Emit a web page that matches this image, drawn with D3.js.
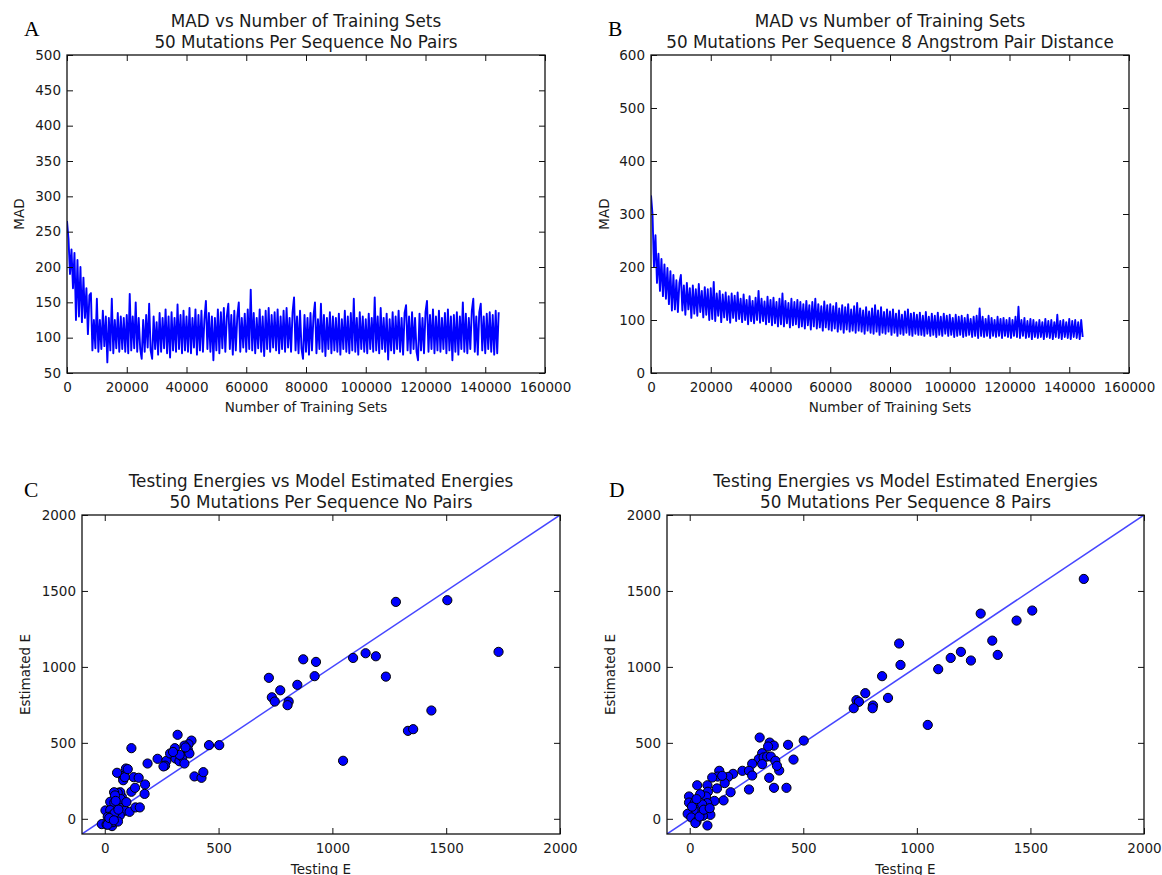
<!DOCTYPE html>
<html>
<head>
<meta charset="utf-8">
<script src="https://cdn.jsdelivr.net/npm/d3@7"></script>
<style>
  html, body { margin: 0; padding: 0; background: #fff; }
  svg { display: block; }
  text { font-family: "DejaVu Sans", sans-serif; fill: #1a1a1a; }
  .letter { font-family: "Liberation Serif", "Times New Roman", serif; fill: #000; }
</style>
</head>
<body>
<svg id="fig" width="1162" height="875"></svg>
<script>
// ---- MAD curves: one sample every madStep training sets (0 .. 144500) ----
const madStep = 500;

const madNoPairs = [
  265,240,190,225,170,220,125,210,130,200,122,185,128,170,105,160,163,82,125,85,
  155,80,125,84,138,88,130,65,128,82,155,78,125,85,135,80,130,84,128,80,
  132,78,162,82,130,85,150,80,128,84,70,125,80,132,86,148,82,70,130,84,
  122,76,135,80,128,85,140,78,130,72,136,82,128,80,147,84,132,78,138,82,
  130,80,142,78,128,86,140,76,132,82,138,80,126,152,84,135,80,130,68,128,
  82,140,78,136,85,142,80,130,148,84,132,76,138,82,130,150,80,128,86,134,
  80,140,84,168,82,135,78,128,85,140,80,130,74,138,84,142,80,132,86,136,
  82,140,78,130,84,138,80,142,86,128,80,136,157,82,130,78,138,84,70,132,
  80,128,76,135,82,130,150,78,126,84,148,80,132,74,128,84,136,78,130,82,
  128,80,134,76,126,84,138,80,130,78,135,82,155,80,128,76,136,84,130,80,
  126,78,134,84,128,80,157,82,130,78,142,84,128,80,134,69,126,82,136,78,
  130,84,138,80,128,76,135,146,82,130,78,136,84,128,80,68,134,82,128,78,
  136,152,80,132,84,140,78,130,82,138,80,128,84,135,78,140,82,130,68,132,
  80,136,76,130,84,150,80,134,78,128,84,138,155,80,130,76,136,148,82,130,
  78,134,84,136,80,132,76,138,78,136
];

const madPairs8A = [
  335,300,200,260,170,225,155,215,145,205,140,198,130,192,118,185,120,175,115,170,
  185,118,165,110,170,120,160,104,165,112,158,108,168,115,155,105,162,110,158,100,
  160,102,172,98,150,108,155,96,148,105,152,100,145,95,150,104,146,98,152,102,
  140,96,148,100,138,92,145,98,136,94,142,100,155,95,140,98,135,92,144,96,
  138,90,142,94,134,88,140,92,150,88,136,94,132,86,140,90,134,92,138,86,
  134,88,130,84,136,90,128,82,134,88,140,84,130,86,126,80,135,86,128,82,
  130,80,126,84,132,78,122,82,128,76,124,82,130,78,120,80,126,76,132,80,
  122,78,118,74,124,80,116,76,122,74,128,78,118,72,124,76,115,74,120,78,
  116,72,120,76,112,70,118,74,110,72,116,76,120,72,112,70,114,74,110,72,
  114,72,108,70,115,74,106,70,112,72,108,68,114,72,106,70,112,74,108,70,
  110,72,104,68,110,70,106,72,108,68,104,70,110,72,102,68,106,70,108,66,
  122,70,106,68,102,70,108,66,104,70,100,68,106,70,102,66,104,70,100,68,
  104,66,100,70,106,68,125,66,100,70,104,66,98,68,102,64,100,68,96,66,
  100,68,96,64,102,68,98,66,100,64,96,68,110,66,98,64,100,68,96,66,
  102,64,98,68,100,66,96,64,100,68
];

// ---- Testing energy vs model estimate, [testing E, estimated E] ----
const scatterNoPairs = [
  [1279,1428],[1505,1439],[1730,1099],[1091,1059],[1146,1090],[1191,1070],[1235,936],
  [1435,713],[1332,579],[1355,590],[1047,382],[872,1050],[928,1033],[922,939],
  [846,882],[721,928],[771,846],[734,800],[747,772],[808,772],[803,748],
  [503,485],[458,485],[320,553],[381,515],[368,491],[350,482],[308,465],
  [232,395],[188,364],[271,382],[265,350],[287,430],[311,397],[328,379],
  [341,406],[329,421],[350,364],[394,279],[425,270],[433,307],[365,455],
  [372,430],[117,465],[258,345],[300,440],[355,470],
  [78,281],[81,254],[54,303],[93,331],[127,274],[149,270],[177,226],[175,164],
  [117,178],[133,204],[75,145],[68,175],[78,114],[57,171],[41,175],[24,112],
  [42,107],[3,55],[24,57],[13,13],[-13,-35],[8,-37],[32,-48],[49,-15],
  [67,33],[89,53],[109,46],[135,75],[154,75],[66,22],[26,15],[36,-22],
  [12,-39],[58,-18],[43,37],[20,5],[60,60],[70,130],[40,-10],[95,110],
  [45,154],[48,118],[88,274],[101,327]
];

const scatterPairs8 = [
  [1735,1579],[1508,1371],[1439,1305],[1281,1351],[1332,1173],[1356,1079],[1194,1099],
  [1149,1059],[1238,1042],[1094,985],[922,1154],[928,1013],[847,939],[873,796],
  [773,827],[734,781],[745,770],[722,728],[807,746],[805,728],[1048,618],
  [502,515],[433,487],[457,390],[308,535],[426,204],[371,204],[350,270],[394,318],
  [261,193],[352,502],[370,482],[345,476],[319,432],[304,393],[325,404],[341,410],
  [357,410],[275,362],[319,360],[377,382],[384,349],
  [232,316],[261,316],[275,285],[180,175],[191,296],[169,276],[154,235],[130,316],
  [123,278],[143,283],[99,272],[120,200],[149,121],[109,118],[78,221],[33,221],
  [80,178],[72,147],[46,162],[-3,147],[-3,107],[22,107],[77,103],[41,61],
  [17,57],[81,48],[67,35],[91,26],[-9,33],[7,9],[30,-18],[25,-28],
  [78,-44],[58,20],[43,15],[10,80],[55,95],[30,130],[62,60],[88,70]
];

// ---- Tick values ----
const trainTicks = [0, 20000, 40000, 60000, 80000, 100000, 120000, 140000, 160000];
const madTicksNoPairs = [50, 100, 150, 200, 250, 300, 350, 400, 450, 500];
const madTicksPairs = [0, 100, 200, 300, 400, 500, 600];
const energyTicks = [0, 500, 1000, 1500, 2000];

// ---- Text ----
const titlesA = ["MAD vs Number of Training Sets", "50 Mutations Per Sequence No Pairs"];
const titlesB = ["MAD vs Number of Training Sets", "50 Mutations Per Sequence 8 Angstrom Pair Distance"];
const titlesC = ["Testing Energies vs Model Estimated Energies", "50 Mutations Per Sequence No Pairs"];
const titlesD = ["Testing Energies vs Model Estimated Energies", "50 Mutations Per Sequence 8 Pairs"];

const svg = d3.select("#fig");
svg.append("rect").attr("width", 1162).attr("height", 875).attr("fill", "#fff");

const TICK_FONT = 13.5, TITLE_FONT = 16.8, LABEL_FONT = 13.5;

function makePanel(o) {
  const w = o.right - o.left, h = o.bottom - o.top;
  const g = svg.append("g").attr("transform", `translate(${o.left},${o.top})`);
  const x = d3.scaleLinear().domain(o.xDomain).range([0, w]);
  const y = d3.scaleLinear().domain(o.yDomain).range([h, 0]);

  const clipId = "clip" + o.letter;
  g.append("clipPath").attr("id", clipId)
    .append("rect").attr("width", w).attr("height", h);
  const plot = g.append("g").attr("clip-path", `url(#${clipId})`);

  // axes: labelled bottom/left, bare inward ticks on top/right
  const fmt = d3.format("d");
  const styleAxis = sel => {
    sel.select(".domain").remove();
    sel.selectAll(".tick line").attr("stroke", "#111").attr("stroke-width", 1);
    sel.selectAll(".tick text").attr("font-size", TICK_FONT).attr("fill", "#1a1a1a")
      .attr("font-family", '"DejaVu Sans", sans-serif');
  };
  g.append("g").attr("transform", `translate(0,${h})`)
    .call(d3.axisBottom(x).tickValues(o.xTicks).tickFormat(fmt).tickSizeInner(-6).tickSizeOuter(0).tickPadding(9))
    .call(styleAxis);
  g.append("g")
    .call(d3.axisTop(x).tickValues(o.xTicks).tickFormat("").tickSizeInner(-6).tickSizeOuter(0))
    .call(styleAxis);
  g.append("g")
    .call(d3.axisLeft(y).tickValues(o.yTicks).tickFormat(fmt).tickSizeInner(-6).tickSizeOuter(0).tickPadding(6))
    .call(styleAxis);
  g.append("g").attr("transform", `translate(${w},0)`)
    .call(d3.axisRight(y).tickValues(o.yTicks).tickFormat("").tickSizeInner(-6).tickSizeOuter(0))
    .call(styleAxis);

  o.draw(plot, x, y);

  g.append("rect").attr("width", w).attr("height", h)
    .attr("fill", "none").attr("stroke", "#111").attr("stroke-width", 1.3);

  // titles
  o.titles.forEach((t, i) => {
    g.append("text").attr("x", w / 2).attr("y", -28.5 + i * 21)
      .attr("text-anchor", "middle").attr("font-size", TITLE_FONT).text(t);
  });
  // axis labels
  g.append("text").attr("x", w / 2).attr("y", h + o.xLabelGap)
    .attr("text-anchor", "middle").attr("font-size", LABEL_FONT).text(o.xLabel);
  g.append("text")
    .attr("transform", `translate(${-o.yLabelGap},${h / 2}) rotate(-90)`)
    .attr("text-anchor", "middle").attr("font-size", LABEL_FONT).text(o.yLabel);
  // panel letter
  svg.append("text").attr("class", "letter")
    .attr("x", o.letterX).attr("y", o.letterY)
    .attr("font-size", 21.5).text(o.letter);
}

function drawMad(values) {
  return (plot, x, y) => {
    const line = d3.line().x((d, i) => x(i * madStep)).y(d => y(d));
    plot.append("path").datum(values).attr("d", line)
      .attr("fill", "none").attr("stroke", "#0000ff").attr("stroke-width", 1.9)
      .attr("stroke-linejoin", "round");
  };
}

function drawScatter(points) {
  return (plot, x, y) => {
    const ident = d3.line().x(d => x(d)).y(d => y(d));
    plot.append("path").datum([-100, 2000]).attr("d", ident)
      .attr("fill", "none").attr("stroke", "#4646ff").attr("stroke-width", 1.5);
    plot.selectAll("circle").data(points).join("circle")
      .attr("cx", d => x(d[0])).attr("cy", d => y(d[1])).attr("r", 4.6)
      .attr("fill", "#0000ff").attr("stroke", "#000").attr("stroke-width", 1);
  };
}

makePanel({
  letter: "A", letterX: 24, letterY: 36,
  left: 67, right: 545, top: 55, bottom: 373,
  xDomain: [0, 160000], yDomain: [50, 500],
  xTicks: trainTicks, yTicks: madTicksNoPairs,
  titles: titlesA, xLabel: "Number of Training Sets", yLabel: "MAD",
  xLabelGap: 38.5, yLabelGap: 43,
  draw: drawMad(madNoPairs)
});
makePanel({
  letter: "B", letterX: 608, letterY: 36,
  left: 651, right: 1129, top: 55, bottom: 373,
  xDomain: [0, 160000], yDomain: [0, 600],
  xTicks: trainTicks, yTicks: madTicksPairs,
  titles: titlesB, xLabel: "Number of Training Sets", yLabel: "MAD",
  xLabelGap: 38.5, yLabelGap: 42,
  draw: drawMad(madPairs8A)
});
makePanel({
  letter: "C", letterX: 24, letterY: 497,
  left: 82, right: 560, top: 515, bottom: 834,
  xDomain: [-100, 2000], yDomain: [-100, 2000],
  xTicks: energyTicks, yTicks: energyTicks,
  titles: titlesC, xLabel: "Testing E", yLabel: "Estimated E",
  xLabelGap: 39.5, yLabelGap: 52.5,
  draw: drawScatter(scatterNoPairs)
});
makePanel({
  letter: "D", letterX: 609, letterY: 497,
  left: 667, right: 1144, top: 515, bottom: 834,
  xDomain: [-100, 2000], yDomain: [-100, 2000],
  xTicks: energyTicks, yTicks: energyTicks,
  titles: titlesD, xLabel: "Testing E", yLabel: "Estimated E",
  xLabelGap: 39.5, yLabelGap: 52.5,
  draw: drawScatter(scatterPairs8)
});
</script>
</body>
</html>
